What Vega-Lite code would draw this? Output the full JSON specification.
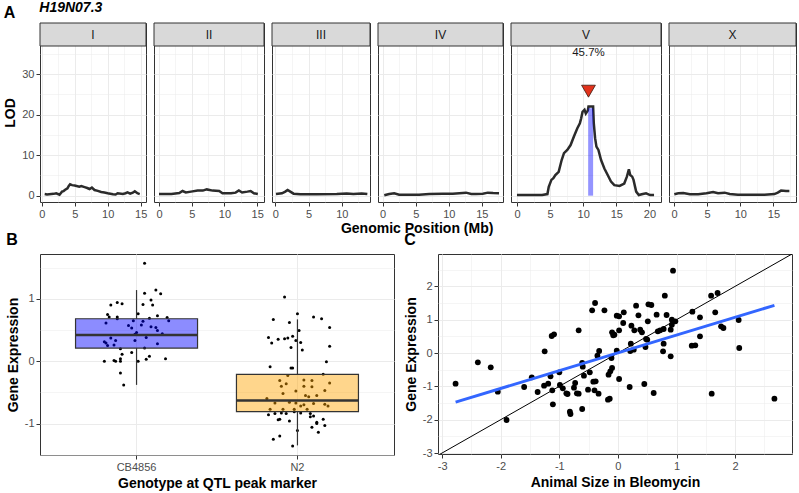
{
  "$schema": "https://vega.github.io/schema/vega-lite/v6.json",
  "background": "white",
  "padding": {"left": 3, "top": 1, "right": 0, "bottom": 0},
  "title": {"text": "H19N07.3", "anchor": "start", "frame": "bounds", "dx": 36, "offset": -11, "fontSize": 14, "fontWeight": "bold", "fontStyle": "italic", "color": "#000000"},
  "datasets": {
    "lod": [
      {"chr":"I","pos":0.45,"lod":0.4},{"chr":"I","pos":0.8,"lod":0.3},{"chr":"I","pos":1.45,"lod":0.4},{"chr":"I","pos":1.8,"lod":0.45},{"chr":"I","pos":2.2,"lod":0.6},{"chr":"I","pos":2.7,"lod":0.25},{"chr":"I","pos":3.07,"lod":1.0},{"chr":"I","pos":3.3,"lod":1.1},{"chr":"I","pos":3.5,"lod":1.4},{"chr":"I","pos":3.9,"lod":1.8},{"chr":"I","pos":4.1,"lod":2.4},{"chr":"I","pos":4.3,"lod":2.8},{"chr":"I","pos":4.6,"lod":2.6},{"chr":"I","pos":5.0,"lod":2.5},{"chr":"I","pos":5.7,"lod":2.2},{"chr":"I","pos":6.0,"lod":2.35},{"chr":"I","pos":6.5,"lod":2.1},{"chr":"I","pos":6.9,"lod":1.9},{"chr":"I","pos":7.25,"lod":1.65},{"chr":"I","pos":7.6,"lod":2.0},{"chr":"I","pos":8.0,"lod":1.4},{"chr":"I","pos":8.5,"lod":1.2},{"chr":"I","pos":9.0,"lod":0.9},{"chr":"I","pos":9.5,"lod":0.8},{"chr":"I","pos":10.0,"lod":0.6},{"chr":"I","pos":10.8,"lod":0.35},{"chr":"I","pos":11.2,"lod":0.3},{"chr":"I","pos":11.5,"lod":0.6},{"chr":"I","pos":12.3,"lod":0.4},{"chr":"I","pos":12.7,"lod":0.6},{"chr":"I","pos":13.0,"lod":0.8},{"chr":"I","pos":13.4,"lod":0.5},{"chr":"I","pos":13.8,"lod":0.75},{"chr":"I","pos":14.1,"lod":1.1},{"chr":"I","pos":14.5,"lod":0.6},{"chr":"I","pos":14.85,"lod":0.4},
      {"chr":"II","pos":0.0,"lod":0.4},{"chr":"II","pos":1.9,"lod":0.4},{"chr":"II","pos":3.1,"lod":0.65},{"chr":"II","pos":3.6,"lod":1.15},{"chr":"II","pos":4.1,"lod":0.8},{"chr":"II","pos":4.9,"lod":1.0},{"chr":"II","pos":5.9,"lod":1.25},{"chr":"II","pos":6.7,"lod":1.25},{"chr":"II","pos":7.3,"lod":1.55},{"chr":"II","pos":8.2,"lod":1.25},{"chr":"II","pos":9.2,"lod":1.15},{"chr":"II","pos":9.7,"lod":0.6},{"chr":"II","pos":11.0,"lod":0.6},{"chr":"II","pos":11.7,"lod":0.75},{"chr":"II","pos":12.2,"lod":1.3},{"chr":"II","pos":12.7,"lod":0.8},{"chr":"II","pos":13.5,"lod":1.0},{"chr":"II","pos":14.0,"lod":1.15},{"chr":"II","pos":14.5,"lod":0.6},{"chr":"II","pos":15.1,"lod":0.4},
      {"chr":"III","pos":0.1,"lod":0.4},{"chr":"III","pos":1.0,"lod":0.6},{"chr":"III","pos":1.5,"lod":1.0},{"chr":"III","pos":1.85,"lod":1.4},{"chr":"III","pos":2.25,"lod":1.0},{"chr":"III","pos":2.75,"lod":0.5},{"chr":"III","pos":3.75,"lod":0.35},{"chr":"III","pos":6.25,"lod":0.35},{"chr":"III","pos":9.25,"lod":0.4},{"chr":"III","pos":10.75,"lod":0.55},{"chr":"III","pos":11.75,"lod":0.4},{"chr":"III","pos":13.0,"lod":0.55},{"chr":"III","pos":13.85,"lod":0.4},
      {"chr":"IV","pos":0.25,"lod":0.1},{"chr":"IV","pos":1.0,"lod":0.4},{"chr":"IV","pos":1.75,"lod":0.6},{"chr":"IV","pos":2.5,"lod":0.25},{"chr":"IV","pos":4.0,"lod":0.25},{"chr":"IV","pos":5.5,"lod":0.25},{"chr":"IV","pos":7.05,"lod":0.4},{"chr":"IV","pos":9.1,"lod":0.5},{"chr":"IV","pos":10.6,"lod":0.5},{"chr":"IV","pos":12.6,"lod":0.75},{"chr":"IV","pos":13.4,"lod":0.4},{"chr":"IV","pos":14.1,"lod":0.4},{"chr":"IV","pos":15.15,"lod":0.5},{"chr":"IV","pos":15.9,"lod":0.75},{"chr":"IV","pos":16.7,"lod":0.65},{"chr":"IV","pos":17.6,"lod":0.6},
      {"chr":"V","pos":0.0,"lod":0.15},{"chr":"V","pos":1.8,"lod":0.15},{"chr":"V","pos":3.8,"lod":0.15},{"chr":"V","pos":4.6,"lod":0.4},{"chr":"V","pos":4.8,"lod":2.2},{"chr":"V","pos":5.2,"lod":3.9},{"chr":"V","pos":5.5,"lod":4.3},{"chr":"V","pos":5.8,"lod":5.1},{"chr":"V","pos":6.3,"lod":5.9},{"chr":"V","pos":6.75,"lod":8.8},{"chr":"V","pos":7.1,"lod":10.5},{"chr":"V","pos":7.6,"lod":11.3},{"chr":"V","pos":8.1,"lod":12.5},{"chr":"V","pos":8.6,"lod":14.6},{"chr":"V","pos":9.1,"lod":16.6},{"chr":"V","pos":9.5,"lod":17.9},{"chr":"V","pos":9.7,"lod":19.1},{"chr":"V","pos":9.9,"lod":20.7},{"chr":"V","pos":10.2,"lod":21.2},{"chr":"V","pos":10.4,"lod":20.3},{"chr":"V","pos":10.7,"lod":21.0},{"chr":"V","pos":10.8,"lod":22.0},{"chr":"V","pos":11.5,"lod":22.0},{"chr":"V","pos":11.6,"lod":17.9},{"chr":"V","pos":11.8,"lod":14.2},{"chr":"V","pos":12.0,"lod":12.1},{"chr":"V","pos":12.3,"lod":11.3},{"chr":"V","pos":12.7,"lod":8.8},{"chr":"V","pos":13.2,"lod":6.7},{"chr":"V","pos":13.7,"lod":5.1},{"chr":"V","pos":14.2,"lod":3.5},{"chr":"V","pos":14.7,"lod":2.6},{"chr":"V","pos":15.5,"lod":2.4},{"chr":"V","pos":16.2,"lod":3.0},{"chr":"V","pos":16.6,"lod":4.7},{"chr":"V","pos":16.9,"lod":6.5},{"chr":"V","pos":17.1,"lod":5.1},{"chr":"V","pos":17.4,"lod":4.7},{"chr":"V","pos":17.6,"lod":3.9},{"chr":"V","pos":18.0,"lod":1.0},{"chr":"V","pos":18.4,"lod":0.15},{"chr":"V","pos":19.0,"lod":0.4},{"chr":"V","pos":19.5,"lod":0.6},{"chr":"V","pos":20.1,"lod":0.15},{"chr":"V","pos":20.7,"lod":0.15},
      {"chr":"X","pos":0.05,"lod":0.35},{"chr":"X","pos":0.65,"lod":0.6},{"chr":"X","pos":1.4,"lod":0.65},{"chr":"X","pos":2.4,"lod":0.35},{"chr":"X","pos":3.65,"lod":0.35},{"chr":"X","pos":4.9,"lod":0.6},{"chr":"X","pos":5.9,"lod":0.9},{"chr":"X","pos":6.65,"lod":0.6},{"chr":"X","pos":7.65,"lod":0.75},{"chr":"X","pos":8.4,"lod":0.4},{"chr":"X","pos":9.65,"lod":0.25},{"chr":"X","pos":11.65,"lod":0.25},{"chr":"X","pos":13.65,"lod":0.25},{"chr":"X","pos":15.15,"lod":0.4},{"chr":"X","pos":15.65,"lod":0.75},{"chr":"X","pos":16.15,"lod":1.25},{"chr":"X","pos":16.9,"lod":1.15},{"chr":"X","pos":17.4,"lod":1.15}
    ],
    "peak": [{"chr":"V","pos":10.8,"ci_lo":10.75,"ci_hi":11.5,"base":0,"peak_lod":21.6,"tri_y":25.8,"lab_y":35.2,"ve":"45.7%"}],
    "boxstats": [
      {"g":"CB4856","lower":-0.38,"q1":0.21,"median":0.42,"q3":0.68,"upper":1.14},
      {"g":"N2","lower":-1.35,"q1":-0.81,"median":-0.63,"q3":-0.21,"upper":0.67}
    ],
    "expr": [
      {"g":"CB4856","xp":1.05,"y":1.57},{"g":"CB4856","xp":1.05,"y":1.09},{"g":"CB4856","xp":1.12,"y":1.14},{"g":"CB4856","xp":1.15,"y":1.08},{"g":"CB4856","xp":1.09,"y":0.98},{"g":"CB4856","xp":1.04,"y":0.91},{"g":"CB4856","xp":1.10,"y":0.90},{"g":"CB4856","xp":0.84,"y":0.90},{"g":"CB4856","xp":0.88,"y":0.94},{"g":"CB4856","xp":0.91,"y":0.92},{"g":"CB4856","xp":1.01,"y":0.76},{"g":"CB4856","xp":0.82,"y":0.75},{"g":"CB4856","xp":0.83,"y":0.71},{"g":"CB4856","xp":0.88,"y":0.71},{"g":"CB4856","xp":0.88,"y":0.68},{"g":"CB4856","xp":1.08,"y":0.69},{"g":"CB4856","xp":1.13,"y":0.73},{"g":"CB4856","xp":1.19,"y":0.70},{"g":"CB4856","xp":1.20,"y":0.65},{"g":"CB4856","xp":0.98,"y":0.65},{"g":"CB4856","xp":1.04,"y":0.64},{"g":"CB4856","xp":1.03,"y":0.58},{"g":"CB4856","xp":0.95,"y":0.57},{"g":"CB4856","xp":1.09,"y":0.55},{"g":"CB4856","xp":1.12,"y":0.54},{"g":"CB4856","xp":0.81,"y":0.61},{"g":"CB4856","xp":0.97,"y":0.53},{"g":"CB4856","xp":1.00,"y":0.46},{"g":"CB4856","xp":0.99,"y":0.43},{"g":"CB4856","xp":1.16,"y":0.44},{"g":"CB4856","xp":1.06,"y":0.38},{"g":"CB4856","xp":1.13,"y":0.49},{"g":"CB4856","xp":0.84,"y":0.37},{"g":"CB4856","xp":0.80,"y":0.31},{"g":"CB4856","xp":0.81,"y":0.29},{"g":"CB4856","xp":0.82,"y":0.25},{"g":"CB4856","xp":0.86,"y":0.26},{"g":"CB4856","xp":0.87,"y":0.33},{"g":"CB4856","xp":0.99,"y":0.33},{"g":"CB4856","xp":1.05,"y":0.21},{"g":"CB4856","xp":1.13,"y":0.28},{"g":"CB4856","xp":0.90,"y":0.20},{"g":"CB4856","xp":0.97,"y":0.14},{"g":"CB4856","xp":0.91,"y":0.11},{"g":"CB4856","xp":0.90,"y":0.04},{"g":"CB4856","xp":0.80,"y":0.00},{"g":"CB4856","xp":0.86,"y":0.01},{"g":"CB4856","xp":0.87,"y":0.00},{"g":"CB4856","xp":0.90,"y":0.00},{"g":"CB4856","xp":1.01,"y":0.00},{"g":"CB4856","xp":1.06,"y":0.03},{"g":"CB4856","xp":1.08,"y":0.08},{"g":"CB4856","xp":1.18,"y":0.04},{"g":"CB4856","xp":0.90,"y":-0.19},{"g":"CB4856","xp":0.92,"y":-0.38},
      {"g":"N2","xp":1.92,"y":1.03},{"g":"N2","xp":2.00,"y":0.76},{"g":"N2","xp":1.85,"y":0.67},{"g":"N2","xp":1.95,"y":0.62},{"g":"N2","xp":2.10,"y":0.71},{"g":"N2","xp":2.15,"y":0.68},{"g":"N2","xp":2.20,"y":0.54},{"g":"N2","xp":2.01,"y":0.49},{"g":"N2","xp":1.82,"y":0.38},{"g":"N2","xp":1.84,"y":0.29},{"g":"N2","xp":1.88,"y":0.35},{"g":"N2","xp":1.92,"y":0.36},{"g":"N2","xp":1.94,"y":0.37},{"g":"N2","xp":1.97,"y":0.40},{"g":"N2","xp":1.99,"y":0.33},{"g":"N2","xp":2.02,"y":0.30},{"g":"N2","xp":1.96,"y":0.22},{"g":"N2","xp":2.03,"y":0.18},{"g":"N2","xp":2.20,"y":0.24},{"g":"N2","xp":2.18,"y":-0.01},{"g":"N2","xp":1.83,"y":-0.09},{"g":"N2","xp":1.96,"y":-0.11},{"g":"N2","xp":1.97,"y":-0.11},{"g":"N2","xp":1.94,"y":-0.23},{"g":"N2","xp":2.16,"y":-0.21},{"g":"N2","xp":2.20,"y":-0.35},{"g":"N2","xp":1.89,"y":-0.31},{"g":"N2","xp":2.04,"y":-0.30},{"g":"N2","xp":2.09,"y":-0.31},{"g":"N2","xp":1.90,"y":-0.40},{"g":"N2","xp":2.04,"y":-0.40},{"g":"N2","xp":2.09,"y":-0.41},{"g":"N2","xp":1.91,"y":-0.52},{"g":"N2","xp":1.99,"y":-0.48},{"g":"N2","xp":2.05,"y":-0.55},{"g":"N2","xp":2.07,"y":-0.57},{"g":"N2","xp":2.12,"y":-0.55},{"g":"N2","xp":2.17,"y":-0.47},{"g":"N2","xp":1.81,"y":-0.60},{"g":"N2","xp":1.86,"y":-0.67},{"g":"N2","xp":1.95,"y":-0.66},{"g":"N2","xp":1.99,"y":-0.67},{"g":"N2","xp":2.02,"y":-0.72},{"g":"N2","xp":2.04,"y":-0.70},{"g":"N2","xp":2.10,"y":-0.68},{"g":"N2","xp":2.17,"y":-0.69},{"g":"N2","xp":2.19,"y":-0.72},{"g":"N2","xp":1.83,"y":-0.77},{"g":"N2","xp":1.91,"y":-0.77},{"g":"N2","xp":1.98,"y":-0.77},{"g":"N2","xp":2.06,"y":-0.77},{"g":"N2","xp":1.82,"y":-0.86},{"g":"N2","xp":1.86,"y":-0.84},{"g":"N2","xp":1.90,"y":-0.83},{"g":"N2","xp":1.93,"y":-0.84},{"g":"N2","xp":1.98,"y":-0.81},{"g":"N2","xp":2.02,"y":-0.83},{"g":"N2","xp":2.08,"y":-0.84},{"g":"N2","xp":2.10,"y":-0.88},{"g":"N2","xp":1.89,"y":-0.93},{"g":"N2","xp":1.88,"y":-0.94},{"g":"N2","xp":1.95,"y":-0.96},{"g":"N2","xp":2.08,"y":-0.89},{"g":"N2","xp":2.12,"y":-0.98},{"g":"N2","xp":2.12,"y":-1.00},{"g":"N2","xp":2.16,"y":-0.93},{"g":"N2","xp":2.17,"y":-1.03},{"g":"N2","xp":2.09,"y":-1.06},{"g":"N2","xp":2.13,"y":-1.14},{"g":"N2","xp":2.00,"y":-1.11},{"g":"N2","xp":1.89,"y":-1.20},{"g":"N2","xp":1.85,"y":-1.25},{"g":"N2","xp":1.97,"y":-1.36},{"g":"N2","xp":1.93,"y":-0.36}
    ],
    "scatter": [
      {"x":-2.77,"y":-0.92},{"x":-2.39,"y":-0.28},{"x":-2.17,"y":-0.43},{"x":-2.05,"y":-1.16},{"x":-1.90,"y":-2.01},{"x":-1.60,"y":-1.02},{"x":-1.47,"y":-0.73},{"x":-1.37,"y":-1.17},{"x":-1.25,"y":0.05},{"x":-1.26,"y":-0.98},{"x":-1.19,"y":-0.92},{"x":-1.12,"y":-1.12},{"x":-1.11,"y":-1.54},{"x":-1.13,"y":0.51},{"x":-1.09,"y":0.56},{"x":-1.15,"y":-0.70},{"x":-1.00,"y":-0.58},{"x":-0.99,"y":-0.96},{"x":-0.94,"y":-1.06},{"x":-0.88,"y":-1.21},{"x":-0.86,"y":-1.23},{"x":-0.82,"y":-1.76},{"x":-0.81,"y":-1.83},{"x":-0.75,"y":-1.04},{"x":-0.73,"y":-0.90},{"x":-0.70,"y":-1.21},{"x":-0.67,"y":-1.22},{"x":-0.67,"y":0.68},{"x":-0.61,"y":-1.68},{"x":-0.61,"y":-0.30},{"x":-0.60,"y":-0.41},{"x":-0.58,"y":-0.68},{"x":-0.51,"y":-1.10},{"x":-0.48,"y":-0.58},{"x":-0.44,"y":1.28},{"x":-0.39,"y":1.50},{"x":-0.42,"y":-0.86},{"x":-0.38,"y":-0.85},{"x":-0.40,"y":-1.12},{"x":-0.33,"y":-1.22},{"x":-0.35,"y":-0.08},{"x":-0.32,"y":0.06},{"x":-0.23,"y":1.28},{"x":-0.16,"y":-0.65},{"x":-0.13,"y":-0.55},{"x":-0.17,"y":-1.40},{"x":-0.14,"y":-1.37},{"x":-0.10,"y":-0.45},{"x":-0.11,"y":-0.15},{"x":-0.10,"y":0.62},{"x":-0.08,"y":0.53},{"x":-0.06,"y":0.55},{"x":-0.02,"y":0.07},{"x":-0.02,"y":1.12},{"x":0.02,"y":1.10},{"x":0.02,"y":0.68},{"x":0.02,"y":-0.78},{"x":0.09,"y":0.90},{"x":0.10,"y":1.22},{"x":0.20,"y":-1.02},{"x":0.21,"y":0.06},{"x":0.22,"y":0.28},{"x":0.23,"y":0.82},{"x":0.27,"y":0.10},{"x":0.28,"y":0.68},{"x":0.31,"y":1.42},{"x":0.35,"y":1.13},{"x":0.38,"y":0.70},{"x":0.41,"y":0.62},{"x":0.45,"y":-0.93},{"x":0.47,"y":0.18},{"x":0.50,"y":0.40},{"x":0.48,"y":0.42},{"x":0.51,"y":0.95},{"x":0.52,"y":1.46},{"x":0.57,"y":1.44},{"x":0.61,"y":-1.20},{"x":0.66,"y":1.15},{"x":0.68,"y":0.65},{"x":0.72,"y":0.68},{"x":0.77,"y":0.05},{"x":0.78,"y":0.28},{"x":0.80,"y":1.72},{"x":0.78,"y":0.72},{"x":0.83,"y":1.14},{"x":0.90,"y":-0.10},{"x":0.90,"y":0.70},{"x":0.92,"y":0.85},{"x":0.92,"y":1.00},{"x":0.94,"y":2.47},{"x":0.98,"y":0.95},{"x":1.26,"y":0.22},{"x":1.32,"y":0.23},{"x":1.27,"y":1.24},{"x":1.40,"y":0.50},{"x":1.40,"y":1.07},{"x":1.59,"y":1.72},{"x":1.60,"y":-1.22},{"x":1.66,"y":1.22},{"x":1.70,"y":1.80},{"x":1.76,"y":0.80},{"x":1.80,"y":0.75},{"x":2.06,"y":0.99},{"x":2.07,"y":0.15},{"x":2.67,"y":-1.37}
    ],
    "identity": [{"x":-3.07,"y":-3.07},{"x":2.97,"y":2.97}]
  },
  "spacing": -5,
  "vconcat": [
    {
      "spacing": 8,
      "align": "each",
      "bounds": "flush",
      "title": {"text": "Genomic Position (Mb)", "orient": "bottom", "anchor": "middle", "frame": "bounds", "dx": 17, "fontSize": 14, "fontWeight": "bold", "offset": 2, "color": "#000000"},
      "hconcat": [
        {
          "width": 106, "height": 179,
          "title": {"text": "A", "anchor": "start", "frame": "bounds", "fontSize": 16, "fontWeight": "bold", "offset": 2},
          "layer": [
            {"data": {"name": "lod"}, "transform": [{"filter": "datum.chr === 'I'"}],
             "mark": {"type": "line", "color": "#2b2b2b", "strokeWidth": 2.5},
             "encoding": {
               "x": {"field": "pos", "type": "quantitative", "scale": {"domain": [-0.26, 15.8], "nice": false, "zero": false},
                     "axis": {"values": [0,2.5,5,7.5,10,12.5,15], "tickCount": 50, "labelOverlap": false, "labelExpr": "datum.value % 5 === 0 ? '' + datum.value : ''", "tickOpacity": {"condition": {"test": "datum.value % 5 === 0", "value": 1}, "value": 0}, "gridWidth": {"condition": {"test": "datum.value % 5 === 0", "value": 1}, "value": 0.5}, "title": null}},
               "y": {"field": "lod", "type": "quantitative", "scale": {"domain": [-1.56, 42.64], "nice": false, "zero": false},
                     "axis": {"values": [0,5,10,15,20,25,30,35], "tickCount": 50, "labelOverlap": false, "labelExpr": "datum.value % 10 === 0 ? '' + datum.value : ''", "tickOpacity": {"condition": {"test": "datum.value % 10 === 0", "value": 1}, "value": 0}, "gridWidth": {"condition": {"test": "datum.value % 10 === 0", "value": 1}, "value": 0.5}, "title": "LOD", "titlePadding": 4}}
             }},
            {"data": {"values": [{"chr": "I", "lo": 36.96, "hi": 42.64, "mid": 39.8}]}, "mark": {"type": "rect", "fill": "#D9D9D9", "stroke": "#333333", "strokeWidth": 1}, "encoding": {"y": {"field": "lo", "type": "quantitative"}, "y2": {"field": "hi"}}},
            {"data": {"values": [{"chr": "I", "lo": 36.96, "hi": 42.64, "mid": 39.8}]}, "mark": {"type": "text", "fontSize": 12, "color": "#1A1A1A", "baseline": "middle"}, "encoding": {"text": {"field": "chr"}, "y": {"field": "mid", "type": "quantitative"}}}
          ]
        },
        {
          "width": 110, "height": 179,
          "title": {"text": " ", "anchor": "start", "frame": "bounds", "fontSize": 16, "fontWeight": "bold", "offset": 2},
          "layer": [
            {"data": {"name": "lod"}, "transform": [{"filter": "datum.chr === 'II'"}],
             "mark": {"type": "line", "color": "#2b2b2b", "strokeWidth": 2.5},
             "encoding": {
               "x": {"field": "pos", "type": "quantitative", "scale": {"domain": [-0.76, 16.04], "nice": false, "zero": false},
                     "axis": {"values": [0,2.5,5,7.5,10,12.5,15], "tickCount": 50, "labelOverlap": false, "labelExpr": "datum.value % 5 === 0 ? '' + datum.value : ''", "tickOpacity": {"condition": {"test": "datum.value % 5 === 0", "value": 1}, "value": 0}, "gridWidth": {"condition": {"test": "datum.value % 5 === 0", "value": 1}, "value": 0.5}, "title": null}},
               "y": {"field": "lod", "type": "quantitative", "scale": {"domain": [-1.56, 42.64], "nice": false, "zero": false},
                     "axis": {"values": [0,5,10,15,20,25,30,35], "tickCount": 50, "labels": false, "ticks": false, "title": null, "gridWidth": {"condition": {"test": "datum.value % 10 === 0", "value": 1}, "value": 0.5}}}
             }},
            {"data": {"values": [{"chr": "II", "lo": 36.96, "hi": 42.64, "mid": 39.8}]}, "mark": {"type": "rect", "fill": "#D9D9D9", "stroke": "#333333", "strokeWidth": 1}, "encoding": {"y": {"field": "lo", "type": "quantitative"}, "y2": {"field": "hi"}}},
            {"data": {"values": [{"chr": "II", "lo": 36.96, "hi": 42.64, "mid": 39.8}]}, "mark": {"type": "text", "fontSize": 12, "color": "#1A1A1A", "baseline": "middle"}, "encoding": {"text": {"field": "chr"}, "y": {"field": "mid", "type": "quantitative"}}}
          ]
        },
        {
          "width": 98, "height": 179,
          "title": {"text": " ", "anchor": "start", "frame": "bounds", "fontSize": 16, "fontWeight": "bold", "offset": 2},
          "layer": [
            {"data": {"name": "lod"}, "transform": [{"filter": "datum.chr === 'III'"}],
             "mark": {"type": "line", "color": "#2b2b2b", "strokeWidth": 2.5},
             "encoding": {
               "x": {"field": "pos", "type": "quantitative", "scale": {"domain": [-0.5, 14.25], "nice": false, "zero": false},
                     "axis": {"values": [0,2.5,5,7.5,10,12.5], "tickCount": 50, "labelOverlap": false, "labelExpr": "datum.value % 5 === 0 ? '' + datum.value : ''", "tickOpacity": {"condition": {"test": "datum.value % 5 === 0", "value": 1}, "value": 0}, "gridWidth": {"condition": {"test": "datum.value % 5 === 0", "value": 1}, "value": 0.5}, "title": null}},
               "y": {"field": "lod", "type": "quantitative", "scale": {"domain": [-1.56, 42.64], "nice": false, "zero": false},
                     "axis": {"values": [0,5,10,15,20,25,30,35], "tickCount": 50, "labels": false, "ticks": false, "title": null, "gridWidth": {"condition": {"test": "datum.value % 10 === 0", "value": 1}, "value": 0.5}}}
             }},
            {"data": {"values": [{"chr": "III", "lo": 36.96, "hi": 42.64, "mid": 39.8}]}, "mark": {"type": "rect", "fill": "#D9D9D9", "stroke": "#333333", "strokeWidth": 1}, "encoding": {"y": {"field": "lo", "type": "quantitative"}, "y2": {"field": "hi"}}},
            {"data": {"values": [{"chr": "III", "lo": 36.96, "hi": 42.64, "mid": 39.8}]}, "mark": {"type": "text", "fontSize": 12, "color": "#1A1A1A", "baseline": "middle"}, "encoding": {"text": {"field": "chr"}, "y": {"field": "mid", "type": "quantitative"}}}
          ]
        },
        {
          "width": 125, "height": 179,
          "title": {"text": " ", "anchor": "start", "frame": "bounds", "fontSize": 16, "fontWeight": "bold", "offset": 2},
          "layer": [
            {"data": {"name": "lod"}, "transform": [{"filter": "datum.chr === 'IV'"}],
             "mark": {"type": "line", "color": "#2b2b2b", "strokeWidth": 2.5},
             "encoding": {
               "x": {"field": "pos", "type": "quantitative", "scale": {"domain": [-0.7, 18.2], "nice": false, "zero": false},
                     "axis": {"values": [0,2.5,5,7.5,10,12.5,15,17.5], "tickCount": 50, "labelOverlap": false, "labelExpr": "datum.value % 5 === 0 ? '' + datum.value : ''", "tickOpacity": {"condition": {"test": "datum.value % 5 === 0", "value": 1}, "value": 0}, "gridWidth": {"condition": {"test": "datum.value % 5 === 0", "value": 1}, "value": 0.5}, "title": null}},
               "y": {"field": "lod", "type": "quantitative", "scale": {"domain": [-1.56, 42.64], "nice": false, "zero": false},
                     "axis": {"values": [0,5,10,15,20,25,30,35], "tickCount": 50, "labels": false, "ticks": false, "title": null, "gridWidth": {"condition": {"test": "datum.value % 10 === 0", "value": 1}, "value": 0.5}}}
             }},
            {"data": {"values": [{"chr": "IV", "lo": 36.96, "hi": 42.64, "mid": 39.8}]}, "mark": {"type": "rect", "fill": "#D9D9D9", "stroke": "#333333", "strokeWidth": 1}, "encoding": {"y": {"field": "lo", "type": "quantitative"}, "y2": {"field": "hi"}}},
            {"data": {"values": [{"chr": "IV", "lo": 36.96, "hi": 42.64, "mid": 39.8}]}, "mark": {"type": "text", "fontSize": 12, "color": "#1A1A1A", "baseline": "middle"}, "encoding": {"text": {"field": "chr"}, "y": {"field": "mid", "type": "quantitative"}}}
          ]
        },
        {
          "width": 150, "height": 179,
          "title": {"text": " ", "anchor": "start", "frame": "bounds", "fontSize": 16, "fontWeight": "bold", "offset": 2},
          "layer": [
            {"data": {"name": "lod"}, "transform": [{"filter": "datum.chr === 'V'"}],
             "mark": {"type": "line", "color": "#2b2b2b", "strokeWidth": 2.5},
             "encoding": {
               "x": {"field": "pos", "type": "quantitative", "scale": {"domain": [-0.9, 21.75], "nice": false, "zero": false},
                     "axis": {"values": [0,2.5,5,7.5,10,12.5,15,17.5,20], "tickCount": 50, "labelOverlap": false, "labelExpr": "datum.value % 5 === 0 ? '' + datum.value : ''", "tickOpacity": {"condition": {"test": "datum.value % 5 === 0", "value": 1}, "value": 0}, "gridWidth": {"condition": {"test": "datum.value % 5 === 0", "value": 1}, "value": 0.5}, "title": null}},
               "y": {"field": "lod", "type": "quantitative", "scale": {"domain": [-1.56, 42.64], "nice": false, "zero": false},
                     "axis": {"values": [0,5,10,15,20,25,30,35], "tickCount": 50, "labels": false, "ticks": false, "title": null, "gridWidth": {"condition": {"test": "datum.value % 10 === 0", "value": 1}, "value": 0.5}}}
             }},
            {"data": {"name": "peak"}, "mark": {"type": "rect", "fill": "#0000FF", "fillOpacity": 0.42},
             "encoding": {"x": {"field": "ci_lo", "type": "quantitative"}, "x2": {"field": "ci_hi"}, "y": {"field": "base", "type": "quantitative"}, "y2": {"field": "peak_lod"}}},
            {"data": {"name": "peak"}, "mark": {"type": "point", "shape": "triangle-down", "size": 190, "filled": true, "fill": "#E3321C", "stroke": "#3a1a10", "strokeWidth": 0.8, "opacity": 1},
             "encoding": {"x": {"field": "pos", "type": "quantitative"}, "y": {"field": "tri_y", "type": "quantitative"}}},
            {"data": {"name": "peak"}, "mark": {"type": "text", "fontSize": 11.5, "color": "#1A1A1A", "baseline": "middle"},
             "encoding": {"x": {"field": "pos", "type": "quantitative"}, "y": {"field": "lab_y", "type": "quantitative"}, "text": {"field": "ve"}}},
            {"data": {"values": [{"chr": "V", "lo": 36.96, "hi": 42.64, "mid": 39.8}]}, "mark": {"type": "rect", "fill": "#D9D9D9", "stroke": "#333333", "strokeWidth": 1}, "encoding": {"y": {"field": "lo", "type": "quantitative"}, "y2": {"field": "hi"}}},
            {"data": {"values": [{"chr": "V", "lo": 36.96, "hi": 42.64, "mid": 39.8}]}, "mark": {"type": "text", "fontSize": 12, "color": "#1A1A1A", "baseline": "middle"}, "encoding": {"text": {"field": "chr"}, "y": {"field": "mid", "type": "quantitative"}}}
          ]
        },
        {
          "width": 127, "height": 179,
          "title": {"text": " ", "anchor": "start", "frame": "bounds", "fontSize": 16, "fontWeight": "bold", "offset": 2},
          "layer": [
            {"data": {"name": "lod"}, "transform": [{"filter": "datum.chr === 'X'"}],
             "mark": {"type": "line", "color": "#2b2b2b", "strokeWidth": 2.5},
             "encoding": {
               "x": {"field": "pos", "type": "quantitative", "scale": {"domain": [-0.75, 18.4], "nice": false, "zero": false},
                     "axis": {"values": [0,2.5,5,7.5,10,12.5,15,17.5], "tickCount": 50, "labelOverlap": false, "labelExpr": "datum.value % 5 === 0 ? '' + datum.value : ''", "tickOpacity": {"condition": {"test": "datum.value % 5 === 0", "value": 1}, "value": 0}, "gridWidth": {"condition": {"test": "datum.value % 5 === 0", "value": 1}, "value": 0.5}, "title": null}},
               "y": {"field": "lod", "type": "quantitative", "scale": {"domain": [-1.56, 42.64], "nice": false, "zero": false},
                     "axis": {"values": [0,5,10,15,20,25,30,35], "tickCount": 50, "labels": false, "ticks": false, "title": null, "gridWidth": {"condition": {"test": "datum.value % 10 === 0", "value": 1}, "value": 0.5}}}
             }},
            {"data": {"values": [{"chr": "X", "lo": 36.96, "hi": 42.64, "mid": 39.8}]}, "mark": {"type": "rect", "fill": "#D9D9D9", "stroke": "#333333", "strokeWidth": 1}, "encoding": {"y": {"field": "lo", "type": "quantitative"}, "y2": {"field": "hi"}}},
            {"data": {"values": [{"chr": "X", "lo": 36.96, "hi": 42.64, "mid": 39.8}]}, "mark": {"type": "text", "fontSize": 12, "color": "#1A1A1A", "baseline": "middle"}, "encoding": {"text": {"field": "chr"}, "y": {"field": "mid", "type": "quantitative"}}}
          ]
        }
      ]
    },
    {
      "spacing": 8,
      "align": "each",
      "hconcat": [
        {
          "width": 354, "height": 201,
          "title": {"text": "B", "anchor": "start", "frame": "bounds", "fontSize": 16, "fontWeight": "bold", "offset": 6},
          "resolve": {"scale": {"x": "independent"}},
          "layer": [
            {"data": {"name": "expr"}, "mark": {"type": "circle", "size": 9, "color": "#000000", "opacity": 1},
             "encoding": {
               "x": {"field": "xp", "type": "quantitative", "scale": {"domain": [0.4, 2.6], "nice": false, "zero": false}, "axis": null},
               "y": {"field": "y", "type": "quantitative", "scale": {"domain": [-1.504, 1.718], "nice": false, "zero": false},
                     "axis": {"title": "Gene Expression", "titlePadding": 4, "tickCount": 50, "labelOverlap": false, "values": [-1.5,-1,-0.5,0,0.5,1,1.5], "labelExpr": "datum.value % 1 === 0 ? '' + datum.value : ''", "tickOpacity": {"condition": {"test": "datum.value % 1 === 0", "value": 1}, "value": 0}, "gridWidth": {"condition": {"test": "datum.value % 1 === 0", "value": 1}, "value": 0.5}}}
             }},
            {"data": {"name": "boxstats"},
             "encoding": {"x": {"field": "g", "type": "nominal", "sort": ["CB4856", "N2"], "scale": {"type": "band", "paddingInner": 0, "paddingOuter": 0.1},
                                "axis": {"title": "Genotype at QTL peak marker", "labelAngle": 0, "bandPosition": 0.5, "grid": true, "titlePadding": 4}}},
             "layer": [
               {"mark": {"type": "rule", "color": "#333333", "strokeWidth": 1.2},
                "encoding": {"y": {"field": "lower", "type": "quantitative"}, "y2": {"field": "q1"}}},
               {"mark": {"type": "rule", "color": "#333333", "strokeWidth": 1.2},
                "encoding": {"y": {"field": "q3", "type": "quantitative"}, "y2": {"field": "upper"}}},
               {"mark": {"type": "bar", "size": 122, "fillOpacity": 0.45, "stroke": "#333333", "strokeWidth": 1.2},
                "encoding": {"y": {"field": "q1", "type": "quantitative"}, "y2": {"field": "q3"},
                             "color": {"field": "g", "type": "nominal", "scale": {"domain": ["CB4856", "N2"], "range": ["#0000FF", "#FFA500"]}, "legend": null}}},
               {"mark": {"type": "tick", "orient": "horizontal", "size": 122, "thickness": 2.5, "color": "#333333", "opacity": 1},
                "encoding": {"y": {"field": "median", "type": "quantitative"}}}
             ]}
          ]
        },
        {
          "width": 354, "height": 200,
          "title": {"text": "C", "anchor": "start", "frame": "bounds", "fontSize": 16, "fontWeight": "bold", "offset": 6},
          "layer": [
            {"data": {"name": "scatter"}, "mark": {"type": "circle", "size": 34, "color": "#000000", "opacity": 1},
             "encoding": {
               "x": {"field": "x", "type": "quantitative", "scale": {"domain": [-3.07, 2.97], "nice": false, "zero": false},
                     "axis": {"title": "Animal Size in Bleomycin", "titlePadding": 4, "tickCount": 50, "labelOverlap": false, "values": [-3,-2.5,-2,-1.5,-1,-0.5,0,0.5,1,1.5,2,2.5], "labelExpr": "datum.value % 1 === 0 ? '' + datum.value : ''", "tickOpacity": {"condition": {"test": "datum.value % 1 === 0", "value": 1}, "value": 0}, "gridWidth": {"condition": {"test": "datum.value % 1 === 0", "value": 1}, "value": 0.5}}},
               "y": {"field": "y", "type": "quantitative", "scale": {"domain": [-3.03, 2.97], "nice": false, "zero": false},
                     "axis": {"title": "Gene Expression", "titlePadding": 4, "tickCount": 50, "labelOverlap": false, "values": [-3,-2.5,-2,-1.5,-1,-0.5,0,0.5,1,1.5,2,2.5], "labelExpr": "datum.value % 1 === 0 ? '' + datum.value : ''", "tickOpacity": {"condition": {"test": "datum.value % 1 === 0", "value": 1}, "value": 0}, "gridWidth": {"condition": {"test": "datum.value % 1 === 0", "value": 1}, "value": 0.5}}}
             }},
            {"data": {"name": "identity"}, "mark": {"type": "line", "color": "#000000", "strokeWidth": 1, "clip": true},
             "encoding": {"x": {"field": "x", "type": "quantitative"}, "y": {"field": "y", "type": "quantitative"}}},
            {"data": {"name": "scatter"}, "transform": [{"regression": "y", "on": "x"}],
             "mark": {"type": "line", "color": "#3366FF", "strokeWidth": 3},
             "encoding": {"x": {"field": "x", "type": "quantitative"}, "y": {"field": "y", "type": "quantitative"}}}
          ]
        }
      ]
    }
  ],
  "config": {
    "font": "Liberation Sans",
    "view": {"stroke": "#333333", "strokeWidth": 1},
    "title": {"font": "Liberation Sans", "color": "#000000"},
    "axis": {
      "domain": false,
      "tickColor": "#333333",
      "tickSize": 4,
      "tickWidth": 1,
      "labelColor": "#4D4D4D",
      "labelFont": "Liberation Sans",
      "labelFontSize": 11,
      "labelPadding": 2,
      "labelFlush": false,
      "labelOverlap": false,
      "titleFont": "Liberation Sans",
      "titleFontSize": 14,
      "titleFontWeight": "bold",
      "titleColor": "#000000",
      "gridColor": "#EBEBEB"
    }
  }
}
